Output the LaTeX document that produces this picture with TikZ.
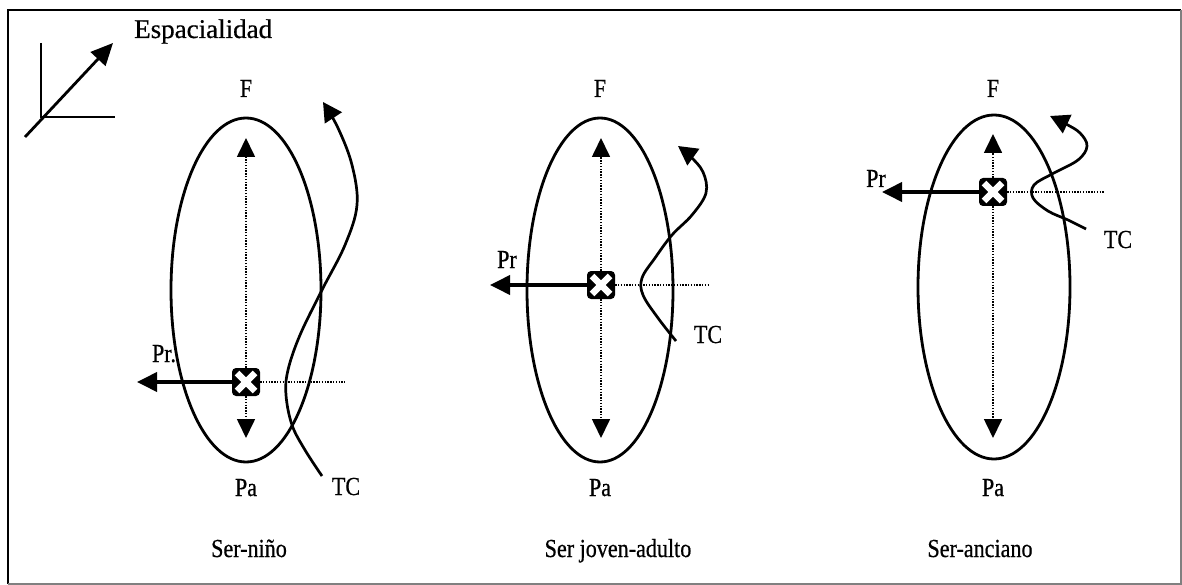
\documentclass[tikz,border=0pt]{standalone}
\usepackage{fontspec}
\setmainfont{Liberation Serif}[FakeStretch=0.85,FakeBold=0.6]
\newfontfamily\widefont{Liberation Serif}[FakeBold=0.6]
\usetikzlibrary{arrows.meta,shapes.geometric}
\begin{document}
\begin{tikzpicture}[x=1pt,y=-1pt,
  lbl/.style={font=\fontsize{26}{30}\selectfont, inner sep=0pt, anchor=base},
  oval/.style={draw, ellipse, line width=2.8pt, inner sep=0pt, minimum width=150pt, minimum height=344pt},
  xbox/.style={fill=black, rounded corners=4pt, minimum size=28pt, inner sep=0pt,
    path picture={
      \draw[white,line width=6.5pt] ([xshift=5pt,yshift=5pt]path picture bounding box.south west) -- ([xshift=-5pt,yshift=-5pt]path picture bounding box.north east);
      \draw[white,line width=6.5pt] ([xshift=5pt,yshift=-5pt]path picture bounding box.north west) -- ([xshift=-5pt,yshift=5pt]path picture bounding box.south east);}},
  dotl/.style={line width=1.7pt, dash pattern=on 1.4pt off 1.4pt},
  dtip/.style={dotl, -{Triangle[length=19pt,width=18pt]}},
  prarrow/.style={line width=3.8pt, -{Triangle[length=20pt,width=19pt]}},
  tcline/.style={line width=2.7pt, -{Triangle[length=19pt,width=20pt]}},
  axis/.style={line width=2.8pt},
  frameA/.style={line width=2.6pt},
  frameB/.style={line width=1.2pt, gray}
]
\useasboundingbox (0,0) rectangle (1182,585);
% frame
\coordinate (f1) at (8,584);
\coordinate (f2) at (8,10);
\coordinate (f3) at (1181,10);
\coordinate (f4) at (1181,584);
\draw[frameA] (f1) -- (f2) -- (f3);
\draw[frameB] (f3) -- (f4) -- (f1);

% axes icon
\coordinate (ax0) at (41,117);
\coordinate (axtop) at (41,43);
\coordinate (axright) at (115,117);
\coordinate (axfoot) at (25,137);
\coordinate (axtip) at (113,43);
\draw[axis] (axtop) -- (ax0) -- (axright);
\draw[axis, -{Triangle[length=22pt,width=20pt]}] (axfoot) -- (axtip);
\node[lbl, anchor=base west, font=\widefont\fontsize{27}{30}\selectfont] (esp) at (134,38) {Espacialidad};

% ===== Panel 1 =====
\node[oval] (e1) at (246,290) {};
\node[xbox] (b1) at (246,382) {};
\coordinate (u1) at (246,138);
\coordinate (d1) at (246,438);
\coordinate (p1) at (137,382);
\coordinate (r1) at (345,382);
\draw[dtip] (b1.north) -- (u1);
\draw[dtip] (b1.south) -- (d1);
\draw[dotl] (b1.east) -- (r1);
\draw[prarrow] (b1.west) -- (p1);
\node[lbl] (F1) at (246,97) {F};
\node[lbl] (Pa1) at (246,496) {Pa};
\node[lbl] (Pr1) at (164,362) {Pr.};
\node[lbl] (TC1) at (346,495) {TC};
\node[lbl] (S1) at (249,557) {Ser-niño};
\coordinate (t1a) at (322,476);
\coordinate (t1z) at (323,102);
\draw[tcline] plot[smooth, tension=0.6] coordinates {(t1a) (305,450) (292,425) (286,395) (288,370) (300,335) (322,290) (345,245) (357,205) (352,165) (338,128) (t1z)};

% ===== Panel 2 =====
\node[oval, minimum width=146pt] (e2) at (600,290) {};
\node[xbox] (b2) at (601,285) {};
\coordinate (u2) at (601,138);
\coordinate (d2) at (601,438);
\coordinate (p2) at (490,285);
\coordinate (r2) at (710,285);
\draw[dtip] (b2.north) -- (u2);
\draw[dtip] (b2.south) -- (d2);
\draw[dotl] (b2.east) -- (r2);
\draw[prarrow] (b2.west) -- (p2);
\node[lbl] (F2) at (600,97) {F};
\node[lbl] (Pa2) at (600,496) {Pa};
\node[lbl] (Pr2) at (507,268) {Pr};
\node[lbl] (TC2) at (708,343) {TC};
\node[lbl] (S2) at (618,557) {Ser joven-adulto};
\coordinate (t2a) at (676,341);
\coordinate (t2z) at (678,146);
\draw[tcline] plot[smooth, tension=0.6] coordinates {(t2a) (658,318) (643,295) (642,278) (655,258) (672,235) (692,215) (706,193) (703,172) (690,156) (t2z)};

% ===== Panel 3 =====
\node[oval, minimum width=152pt] (e3) at (994,287) {};
\node[xbox] (b3) at (993,192) {};
\coordinate (u3) at (993,134);
\coordinate (d3) at (993,438);
\coordinate (p3) at (882,192);
\coordinate (r3) at (1105,192);
\draw[dtip] (b3.north) -- (u3);
\draw[dtip] (b3.south) -- (d3);
\draw[dotl] (b3.east) -- (r3);
\draw[prarrow] (b3.west) -- (p3);
\node[lbl] (F3) at (993,97) {F};
\node[lbl] (Pa3) at (993,496) {Pa};
\node[lbl] (Pr3) at (876,187) {Pr};
\node[lbl] (TC3) at (1118,248) {TC};
\node[lbl] (S3) at (980,557) {Ser-anciano};
\coordinate (t3a) at (1086,229);
\coordinate (t3z) at (1050,116);
\draw[tcline] plot[smooth, tension=0.6] coordinates {(t3a) (1068,220) (1048,211) (1033,198) (1034,185) (1052,174) (1078,160) (1087,146) (1080,133) (1066,124) (t3z)};
\end{tikzpicture}
\end{document}
